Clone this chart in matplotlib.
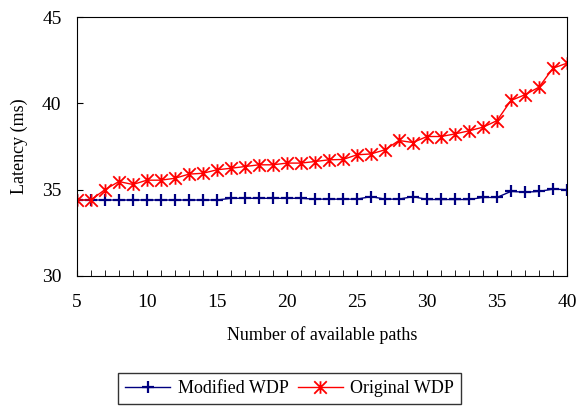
import matplotlib
matplotlib.use("Agg")
import matplotlib.pyplot as plt
from matplotlib.path import Path

paths = list(range(5, 41))
modified_wdp = [34.4, 34.4, 34.4, 34.4, 34.4, 34.4, 34.4, 34.4, 34.4, 34.4, 34.4,
                34.5, 34.5, 34.5, 34.5, 34.5, 34.5, 34.45, 34.45, 34.45, 34.45,
                34.6, 34.45, 34.45, 34.6, 34.43, 34.43, 34.43, 34.43, 34.55, 34.55,
                34.9, 34.85, 34.9, 35.03, 35.0]
original_wdp = [34.4, 34.4, 35.0, 35.47, 35.3, 35.55, 35.55, 35.66, 35.9, 35.95, 36.15,
                36.24, 36.34, 36.44, 36.44, 36.54, 36.54, 36.63, 36.73, 36.75, 37.02,
                37.07, 37.31, 37.85, 37.73, 38.08, 38.08, 38.23, 38.41, 38.62, 39.0,
                40.17, 40.5, 40.94, 42.04, 42.33]
x_ticks = [5, 10, 15, 20, 25, 30, 35, 40]
y_ticks = [30, 35, 40, 45]

# excel-style star: an x with a vertical bar through it
star = Path([(-1, -1), (1, 1), (-1, 1), (1, -1), (0, -1), (0, 1)],
            [Path.MOVETO, Path.LINETO, Path.MOVETO, Path.LINETO, Path.MOVETO, Path.LINETO])

plt.rcParams["font.family"] = ["Liberation Serif", "DejaVu Serif"]
plt.rcParams["font.size"] = 13

fig = plt.figure(figsize=(5.78, 4.07), dpi=100)
ax = fig.add_axes([0.133, 0.322, 0.848, 0.636])

ax.plot(paths, modified_wdp, color="#000080", lw=1.0, marker="+", ms=8, mew=1.6,
        label="Modified WDP")
ax.plot(paths, original_wdp, color="#ff0000", lw=1.0, marker=star, ms=9, mew=1.3,
        label="Original WDP")

ax.set_xlim(5, 40)
ax.set_ylim(30, 45)
ax.set_xticks(x_ticks)
ax.set_xticks(paths, minor=True)
ax.set_yticks(y_ticks)
ax.tick_params(axis="x", which="both", direction="in", length=4, pad=13, labelsize=14)
ax.tick_params(axis="y", direction="in", length=4, pad=11, labelsize=14)
ax.set_xlabel("Number of available paths", labelpad=11)
ax.set_ylabel("Latency (ms)", labelpad=10)

fig.legend(loc="upper center", bbox_to_anchor=(0.501, 0.084), ncol=2, frameon=True,
           fancybox=False, edgecolor="black", handlelength=2.5, columnspacing=0.5,
           handletextpad=0.4, borderaxespad=0, borderpad=0.4)

fig.savefig("out.png", dpi=100)
